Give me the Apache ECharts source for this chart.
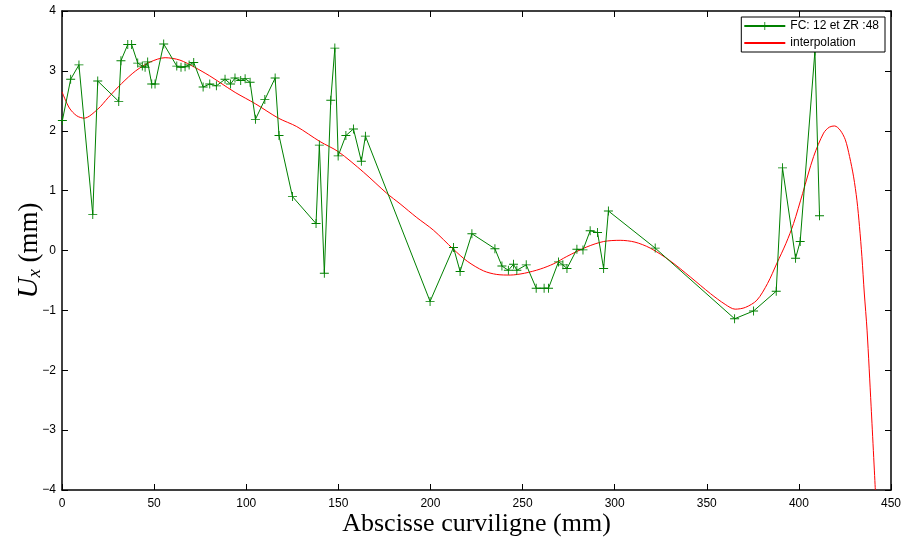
<!DOCTYPE html>
<html>
<head>
<meta charset="utf-8">
<script src="https://cdn.jsdelivr.net/npm/echarts@6/dist/echarts.min.js"></script>
<style>html,body{margin:0;padding:0;background:#fff}#c{width:904px;height:540px}</style>
</head>
<body>
<div id="c"></div>
<script>
// Measured data (FC: 12 et ZR :48)
const fcX = [0.2,4.7,9.2,16.7,19.4,30.8,32.0,35.7,37.8,41.1,43.6,45.1,46.5,48.7,50.5,55.2,62.3,64.6,66.8,69.0,71.5,76.6,80.2,83.8,88.5,91.5,93.9,97.0,99.4,102.1,105.0,110.1,115.7,117.8,125.1,137.9,139.7,142.4,145.9,148.1,149.9,154.1,158.2,162.5,164.7,199.8,212.5,216.1,222.5,235.0,238.8,242.3,245.1,246.9,252.0,257.4,261.7,264.1,269.5,271.9,274.1,279.5,282.8,286.7,290.7,294.0,296.6,322.0,365.1,375.4,387.7,391.1,398.2,400.7,408.7,411.2];
const fcY = [2.17,2.86,3.10,0.60,2.83,2.49,3.17,3.44,3.44,3.13,3.08,3.06,3.15,2.78,2.78,3.45,3.08,3.06,3.07,3.10,3.14,2.73,2.78,2.75,2.86,2.78,2.88,2.84,2.87,2.81,2.19,2.52,2.88,1.92,0.90,0.45,1.76,-0.38,2.51,3.38,1.58,1.92,2.03,1.49,1.91,-0.85,0.05,-0.35,0.28,0.03,-0.26,-0.33,-0.23,-0.33,-0.24,-0.63,-0.63,-0.63,-0.19,-0.24,-0.30,0.02,0.01,0.33,0.30,-0.30,0.66,0.04,-1.14,-1.01,-0.68,1.38,-0.13,0.15,3.33,0.58];
// Interpolation curve
const interpX = [0,4,8,12,19.4,25,32.4,40,48,56,64,72,80,86,94,105,117.5,127.4,140,150,163.6,176.3,183.5,192.6,201.6,212.5,220,228.8,236,243.3,251,259.6,267,274,284.9,294,303,311,319.3,330,341,352,360,365.4,371,377.2,383,388.1,393,397.1,402,408,413.4,416.5,419.4,422.4,425.2,427.5,429.7,431.5,432.9,434.2,435.5,437,439.2,441.5];
const interpY = [2.65,2.38,2.25,2.21,2.36,2.55,2.79,3.0,3.15,3.22,3.18,3.06,2.92,2.80,2.64,2.45,2.21,2.07,1.82,1.65,1.31,0.955,0.78,0.55,0.34,0.02,-0.18,-0.34,-0.40,-0.41,-0.38,-0.31,-0.22,-0.10,0.06,0.15,0.17,0.14,0.04,-0.17,-0.44,-0.72,-0.90,-0.98,-0.95,-0.83,-0.55,-0.21,0.12,0.45,0.95,1.57,1.96,2.06,2.08,2.01,1.85,1.57,1.23,0.84,0.40,-0.10,-0.71,-1.33,-2.6,-4.0];
const xMin = 0, xMax = 450, xStep = 50;
const yMin = -4, yMax = 4, yStep = 1;
const seriesNames = ['FC: 12 et ZR :48', 'interpolation'];

const plusPath = 'path://M-0.1,-1L0.1,-1L0.1,-0.1L1,-0.1L1,0.1L0.1,0.1L0.1,1L-0.1,1L-0.1,0.1L-1,0.1L-1,-0.1L-0.1,-0.1Z';
const fmt = v => String(v).replace('-', '\u2212');
const lblFont = {fontFamily: 'Liberation Sans', fontSize: 12, color: '#000'};
const lineStyleAxis = {color: '#000', width: 1.5};

const chart = echarts.init(document.getElementById('c'), null, {renderer: 'canvas'});
chart.setOption({
  animation: false,
  backgroundColor: '#fff',
  grid: {left: 62, right: 13, top: 11, bottom: 50, containLabel: false, outerBoundsMode: 'none'},
  legend: {
    orient: 'vertical', right: 19, top: 17,
    backgroundColor: '#fff', borderColor: '#000', borderWidth: 1,
    padding: [3, 6, 3, 2], itemGap: 5, itemWidth: 41, itemHeight: 10,
    textStyle: {fontFamily: 'Liberation Sans', fontSize: 12, color: '#000'},
    data: [
      {name: seriesNames[0]},
      {name: seriesNames[1], itemStyle: {color: 'rgba(0,0,0,0)', borderWidth: 0, opacity: 0}}
    ]
  },
  xAxis: [{
    type: 'value', min: xMin, max: xMax, interval: xStep, position: 'bottom',
    name: 'Abscisse curviligne (mm)', nameLocation: 'middle', nameGap: 21, nameMoveOverlap: false,
    nameTextStyle: {fontFamily: 'Liberation Serif', fontSize: 26, color: '#000', verticalAlign: 'top'},
    axisLine: {show: true, onZero: false, lineStyle: lineStyleAxis},
    axisTick: {show: true, inside: true, length: 6, lineStyle: {color: '#000', width: 1}},
    axisLabel: Object.assign({formatter: fmt, margin: 8}, lblFont),
    splitLine: {show: false}
  }, {
    type: 'value', min: xMin, max: xMax, interval: xStep, position: 'top',
    axisLine: {show: true, onZero: false, lineStyle: lineStyleAxis},
    axisTick: {show: true, inside: true, length: 6, lineStyle: {color: '#000', width: 1}},
    axisLabel: {show: false}, splitLine: {show: false}
  }],
  yAxis: [{
    type: 'value', min: yMin, max: yMax, interval: yStep, position: 'left',
    name: '{u|U}{s|x} (mm)', nameLocation: 'middle', nameGap: 18, nameRotate: 90, nameMoveOverlap: false,
    nameTextStyle: {
      fontFamily: 'Liberation Serif', fontSize: 27, color: '#000', verticalAlign: 'bottom',
      rich: {
        u: {fontFamily: 'Liberation Serif', fontStyle: 'italic', fontSize: 29, color: '#000'},
        s: {fontFamily: 'Liberation Serif', fontStyle: 'italic', fontSize: 19, color: '#000', verticalAlign: 'bottom', padding: [10, 0, 0, 0]}
      }
    },
    axisLine: {show: true, onZero: false, lineStyle: lineStyleAxis},
    axisTick: {show: true, inside: true, length: 6, lineStyle: {color: '#000', width: 1}},
    axisLabel: Object.assign({formatter: fmt, margin: 6}, lblFont),
    splitLine: {show: false}
  }, {
    type: 'value', min: yMin, max: yMax, interval: yStep, position: 'right',
    axisLine: {show: true, onZero: false, lineStyle: lineStyleAxis},
    axisTick: {show: true, inside: true, length: 6, lineStyle: {color: '#000', width: 1}},
    axisLabel: {show: false}, splitLine: {show: false}
  }],
  series: [{
    name: seriesNames[0], type: 'line', xAxisIndex: 0, yAxisIndex: 0,
    data: fcX.map((x, i) => [x, fcY[i]]),
    symbol: plusPath, symbolSize: 9, showSymbol: true,
    itemStyle: {color: '#008000', borderWidth: 0},
    lineStyle: {color: '#008000', width: 1},
    z: 3
  }, {
    name: seriesNames[1], type: 'line', xAxisIndex: 0, yAxisIndex: 0,
    data: interpX.map((x, i) => [x, interpY[i]]),
    symbol: 'none', smooth: 0.3,
    itemStyle: {color: '#ff0000'},
    lineStyle: {color: '#ff0000', width: 1},
    z: 2
  }]
});
</script>
</body>
</html>
